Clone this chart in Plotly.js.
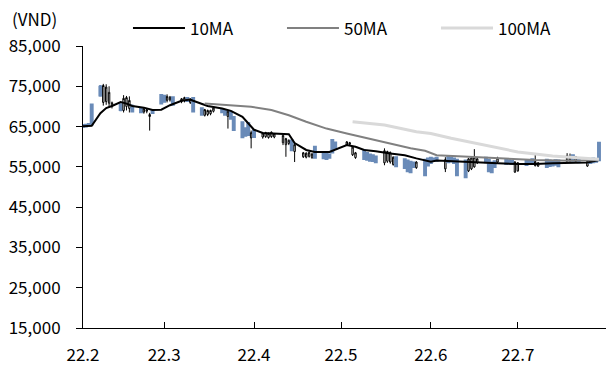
<!DOCTYPE html>
<html>
<head>
<meta charset="utf-8">
<script src="https://cdn.plot.ly/plotly-3.0.1.min.js"></script>
<style>
  html, body { margin: 0; padding: 0; background: #fff; }
  #chart { width: 606px; height: 365px; }
</style>
</head>
<body>
<div id="chart"></div>
<script>
// Daily prices (VND), Feb - Jul 2022
const tradeDates = [
  '2022-02-01','2022-02-02','2022-02-03','2022-02-04','2022-02-07','2022-02-08','2022-02-09','2022-02-10','2022-02-11',
  '2022-02-14','2022-02-15','2022-02-16','2022-02-17','2022-02-18','2022-02-21','2022-02-22','2022-02-23','2022-02-24','2022-02-25',
  '2022-02-28','2022-03-01','2022-03-02','2022-03-03','2022-03-04','2022-03-07','2022-03-08','2022-03-09','2022-03-10','2022-03-11',
  '2022-03-14','2022-03-15','2022-03-16','2022-03-17','2022-03-18','2022-03-21','2022-03-22','2022-03-23','2022-03-24','2022-03-25',
  '2022-03-28','2022-03-29','2022-03-30','2022-03-31','2022-04-01','2022-04-04','2022-04-05','2022-04-06','2022-04-07','2022-04-08',
  '2022-04-11','2022-04-12','2022-04-13','2022-04-14','2022-04-15','2022-04-18','2022-04-19','2022-04-20','2022-04-21','2022-04-22',
  '2022-04-25','2022-04-26','2022-04-27','2022-04-28','2022-04-29','2022-05-03','2022-05-04','2022-05-05','2022-05-06',
  '2022-05-09','2022-05-10','2022-05-11','2022-05-12','2022-05-13','2022-05-16','2022-05-17','2022-05-18','2022-05-19','2022-05-20',
  '2022-05-23','2022-05-24','2022-05-25','2022-05-26','2022-05-27','2022-05-30','2022-05-31','2022-06-01','2022-06-02','2022-06-03',
  '2022-06-06','2022-06-07','2022-06-08','2022-06-09','2022-06-10','2022-06-13','2022-06-14','2022-06-15','2022-06-16','2022-06-17',
  '2022-06-20','2022-06-21','2022-06-22','2022-06-23','2022-06-24','2022-06-27','2022-06-28','2022-06-29','2022-06-30','2022-07-01',
  '2022-07-04','2022-07-05','2022-07-06','2022-07-07','2022-07-08','2022-07-11','2022-07-12','2022-07-13','2022-07-14','2022-07-15',
  '2022-07-18','2022-07-19','2022-07-20','2022-07-21','2022-07-22','2022-07-25','2022-07-26','2022-07-27','2022-07-28','2022-07-29'
];

const openPx = [
  65300,65400,65600,70400,74800,71000,71200,70800,70200,
  70500,69000,70000,69500,70000,69500,68600,68800,67500,68900,
  72800,72600,71500,71600,72200,71200,71400,72000,71000,72000,
  69500,67800,68000,68200,68800,69200,68900,67500,68600,67300,
  66000,64500,65800,62200,64000,62400,62500,62300,62500,62400,
  61000,60500,60800,61500,58800,57500,57400,57600,57300,59900,
  58600,58200,58000,61600,61000,60400,60600,58000,57300,
  59100,58400,58000,57800,57500,56000,56400,56200,55600,57300,
  56800,56500,56200,56000,54800,56700,57000,57200,57000,57200,
  54500,57400,57200,57000,56700,56500,54000,54500,55000,56000,
  57200,56700,56000,56300,56200,56800,56600,56400,53700,54000,
  56600,56500,56800,55300,55200,56700,56500,56400,56600,56500,
  56200,56400,57800,56300,57000,55200,56800,57000,56900,60900
];

const highPx = [
  65500,65600,65800,70600,75300,75600,75500,75000,71200,
  70800,72800,72600,72500,70500,69800,69800,69500,68400,69100,
  73000,72900,73000,72600,72400,72100,72400,72300,72000,72200,
  69800,69400,69200,69200,69800,69500,69100,68900,68800,67500,
  66200,64700,66000,64000,64200,63600,63700,63500,63800,63400,
  63000,62200,61800,61700,60700,58700,58600,58800,58400,60100,
  58800,58400,58200,61800,61200,61400,61200,60100,58700,
  59300,58600,58200,58000,57700,59600,59000,58800,57600,57500,
  57000,56700,56400,56200,56400,56900,57200,57400,57200,57400,
  57400,57600,57400,57200,56900,56700,57200,57400,59400,57200,
  57400,56900,56200,56500,57500,57000,56800,56600,56400,56200,
  56800,56700,57000,58400,56200,56900,56700,56600,56800,56700,
  58400,58300,58000,57700,57200,56600,57000,57200,57100,61100
];

const lowPx = [
  64900,65000,65200,65300,72400,70200,70400,69800,69500,
  68800,68500,69000,68500,68500,68300,68200,68300,64000,68200,
  70600,71000,71000,71200,70300,70800,71000,71200,70600,68600,
  67800,67500,67600,67800,68500,68300,67800,64500,66800,64000,
  62200,62600,62800,59600,62300,62000,62200,62000,62200,62100,
  60400,57500,60400,59000,56200,57200,57100,57300,57000,57100,
  57000,56800,57100,58400,59300,60200,60300,57700,57000,
  56800,56600,56400,56300,56000,55400,56000,55800,55300,55000,
  54600,53800,53500,54800,54500,52800,55200,55800,56300,56400,
  53700,56000,56200,55800,52800,52300,53700,54200,54800,55700,
  56000,53800,53500,54800,56000,55600,55700,55600,53500,53800,
  55300,55600,55800,55100,55000,54800,55100,55200,55400,55000,
  56000,56200,56300,56100,56000,55000,55800,56000,56100,56500
];

const closePx = [
  65000,65100,65300,65600,72800,75200,74800,73500,70900,
  69200,72000,72200,71500,68800,68600,69400,69200,68000,68400,
  70800,71200,72500,72300,70500,71900,72200,71400,71800,68800,
  68000,69200,69000,69000,69600,68600,68000,68800,67000,64200,
  62400,62800,63000,63500,62500,63400,63500,63300,63600,63200,
  62800,62000,61600,59200,60500,58500,58400,58600,58200,57300,
  57200,57000,57300,58600,59500,61200,61000,59900,58500,
  57000,56800,56600,56500,56200,59000,58800,58600,57400,55200,
  54800,54000,53700,55000,56200,53000,55400,56000,56500,56600,
  56800,56200,56400,56000,53000,52500,57000,57200,57400,57000,
  56200,54000,53700,55000,57200,55800,55900,55800,56200,56000,
  55500,55800,56000,56300,56000,55000,55300,55400,55600,55200,
  57800,57600,56500,57500,56200,56400,56000,56200,56300,56700
];

// Moving averages
const ma10Dates = [
  '2022-02-01','2022-02-04','2022-02-07','2022-02-09','2022-02-11','2022-02-14','2022-02-16','2022-02-18','2022-02-22',
  '2022-02-25','2022-02-28','2022-03-03','2022-03-07','2022-03-10','2022-03-11','2022-03-16','2022-03-21','2022-03-24',
  '2022-03-28','2022-03-30','2022-04-01','2022-04-04','2022-04-13','2022-04-15','2022-04-19','2022-04-22','2022-04-27',
  '2022-05-03','2022-05-06','2022-05-09','2022-05-13','2022-05-18','2022-05-23','2022-05-27','2022-06-01','2022-06-03',
  '2022-06-08','2022-06-14','2022-06-20','2022-06-24','2022-07-01','2022-07-07','2022-07-13','2022-07-19','2022-07-25','2022-07-29'
];
const ma10 = [
  65100,65200,68300,69600,70100,71100,70700,70100,69700,
  69100,69200,70300,71400,71700,71400,70100,69500,68900,
  67400,65800,64200,63400,63100,60900,59200,58700,58700,
  60400,60000,59200,58900,58300,57900,57100,56300,56600,
  56400,56300,56100,55900,55700,55700,55900,56000,56100,56700
];

const ma50Dates = [
  '2022-03-15','2022-03-24','2022-03-31','2022-04-07','2022-04-13','2022-04-19','2022-04-26','2022-05-03','2022-05-10',
  '2022-05-18','2022-05-25','2022-05-30','2022-06-01','2022-06-03','2022-06-14','2022-06-24','2022-07-07','2022-07-19','2022-07-29'
];
const ma50 = [
  70700,70300,69900,69100,67800,66200,64500,63300,62100,
  60800,59600,59000,58400,57900,57500,57100,56700,56500,56700
];

const ma100Dates = [
  '2022-05-05','2022-05-16','2022-05-27','2022-06-01','2022-06-08','2022-06-20','2022-07-01','2022-07-13','2022-07-25','2022-07-29'
];
const ma100 = [66200,65400,63700,63300,62100,60400,58700,57700,57100,56900];

// Axis ticks
const monthTicks = ['2022-02-01','2022-03-01','2022-04-01','2022-05-01','2022-06-01','2022-07-01'];
const monthLabels = ['22.2','22.3','22.4','22.5','22.6','22.7'];
const priceTicks = [15000,25000,35000,45000,55000,65000,75000,85000];

const downBlue = '#6A8BB8';
const FONT = 'Noto Sans CJK KR, Noto Sans, sans-serif';

const traces = [
  {
    type: 'candlestick',
    x: tradeDates, open: openPx, high: highPx, low: lowPx, close: closePx,
    increasing: { line: { color: '#000000', width: 1 }, fillcolor: '#ffffff' },
    // down days: thick outline in the fill colour so neighbouring bodies join up
    decreasing: { line: { color: downBlue, width: 2.5 }, fillcolor: downBlue },
    whiskerwidth: 0,
    showlegend: false,
    hoverinfo: 'skip'
  },
  { type: 'scatter', mode: 'lines', name: '10MA', x: ma10Dates, y: ma10,
    line: { color: '#000000', width: 2 }, hoverinfo: 'skip' },
  { type: 'scatter', mode: 'lines', name: '50MA', x: ma50Dates, y: ma50,
    line: { color: '#808080', width: 2 }, hoverinfo: 'skip' },
  { type: 'scatter', mode: 'lines', name: '100MA', x: ma100Dates, y: ma100,
    line: { color: '#D9D9D9', width: 3 }, hoverinfo: 'skip' }
];

const layout = {
  width: 606, height: 365,
  margin: { l: 83, r: 0, t: 46, b: 37, pad: 0, autoexpand: false },
  paper_bgcolor: '#ffffff', plot_bgcolor: '#ffffff',
  font: { family: FONT, size: 17, color: '#000000' },
  showlegend: true,
  legend: {
    orientation: 'h', x: 0.086, xanchor: 'left', y: 1.062, yanchor: 'middle',
    itemwidth: 52, entrywidth: 87, entrywidthmode: 'pixels',
    font: { family: FONT, size: 17, color: '#000000' },
    bgcolor: 'rgba(0,0,0,0)', traceorder: 'normal'
  },
  xaxis: {
    type: 'date',
    range: ['2022-02-01', '2022-07-31 10:00'],
    tickmode: 'array', tickvals: monthTicks, ticktext: monthLabels,
    ticks: 'inside', ticklen: 6, tickwidth: 1, tickcolor: '#000000',
    showline: true, linecolor: '#000000', linewidth: 1,
    showgrid: false, zeroline: false,
    ticklabelstandoff: 12,
    rangeslider: { visible: false },
    fixedrange: true
  },
  yaxis: {
    range: [15000, 85000],
    tickmode: 'array', tickvals: priceTicks, tickformat: ',d',
    ticks: 'outside', ticklen: 6, tickwidth: 1, tickcolor: '#000000',
    showline: true, linecolor: '#000000', linewidth: 1,
    showgrid: false, zeroline: false,
    ticklabelstandoff: 12,
    fixedrange: true
  },
  // inner half of the cross-shaped price ticks
  yaxis2: {
    overlaying: 'y', anchor: 'x', side: 'left',
    range: [15000, 85000],
    tickmode: 'array', tickvals: priceTicks,
    ticks: 'inside', ticklen: 6, tickwidth: 1, tickcolor: '#000000',
    showticklabels: false, showline: false, showgrid: false, zeroline: false,
    fixedrange: true
  },
  annotations: [
    { text: '(VND)', xref: 'paper', yref: 'paper', x: -0.092, y: 1.098,
      xanchor: 'center', yanchor: 'middle', showarrow: false,
      font: { family: FONT, size: 17, color: '#000000' } }
  ]
};

Plotly.newPlot('chart', traces, layout, { staticPlot: true, displayModeBar: false });
</script>
</body>
</html>
